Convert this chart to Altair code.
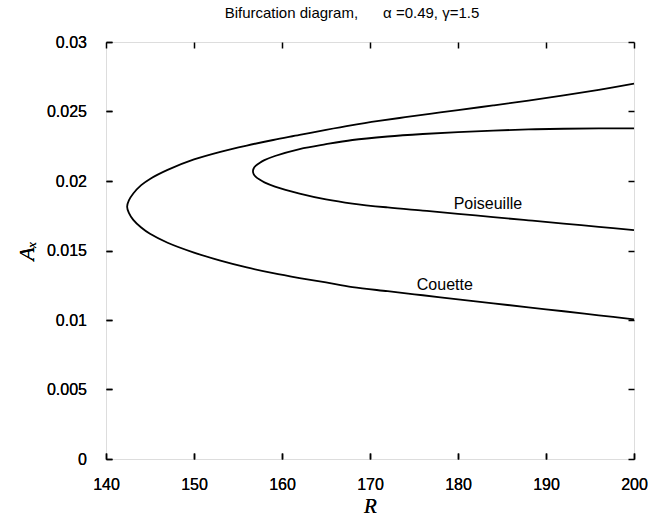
import altair as alt
import pandas as pd

# Couette branch (outer curve), traced from the upper right end through the nose to the lower right end
couette_R = [200, 196, 192, 188, 184, 180, 177, 174, 171, 168, 165, 162, 159, 156, 153, 150, 147, 145, 144, 143.1, 142.6, 142.4,
             142.6, 143.1, 144, 145, 147, 150, 153, 156, 159, 162, 165, 168, 172, 176, 180, 184, 188, 192, 196, 200]
couette_A = [0.02700, 0.02656, 0.02616, 0.02579, 0.02544, 0.0251, 0.02485, 0.02459, 0.02432, 0.02402, 0.02368, 0.02331, 0.02295, 0.02255, 0.0221, 0.02155, 0.0208, 0.02015, 0.0197, 0.0191, 0.0186, 0.01815,
             0.0177, 0.0172, 0.01665, 0.0162, 0.01556, 0.01485, 0.01427, 0.01378, 0.01337, 0.01302, 0.0127, 0.01237, 0.01207, 0.01178, 0.01149, 0.0112, 0.01091, 0.01063, 0.01034, 0.01005]

# Poiseuille branch (inner curve)
poiseuille_R = [200, 196, 192, 188, 184, 180, 176, 172, 168, 165, 162, 159.2, 158.0, 157.45, 157.03, 156.78, 156.7,
                156.78, 157.03, 157.45, 158.0, 159.2, 162, 165, 168, 172, 176, 180, 184, 188, 192, 196, 200]
poiseuille_A = [0.02379, 0.02378, 0.02376, 0.02371, 0.02363, 0.02352, 0.02338, 0.0232, 0.02295, 0.02265, 0.0223, 0.0218, 0.0215, 0.0213, 0.0211, 0.0209, 0.0207,
                0.0205, 0.0203, 0.0201, 0.0199, 0.0196, 0.0191, 0.01868, 0.01838, 0.0181, 0.01787, 0.01764, 0.0174, 0.01717, 0.01694, 0.0167, 0.01647]

label_text = ["Poiseuille", "Couette"]
label_R = [183.4, 178.5]
label_A = [0.01835, 0.01252]

x_ticks = [140, 150, 160, 170, 180, 190, 200]
y_ticks = [0, 0.005, 0.01, 0.015, 0.02, 0.025, 0.03]

title_text = "Bifurcation diagram,\u00a0\u00a0\u00a0\u00a0\u00a0 \u03b1\u00a0=0.49, \u03b3=1.5"

rows = []
for i, (r, a) in enumerate(zip(couette_R, couette_A)):
    rows.append({"curve": "Couette", "order": i, "R": r, "A": a})
for i, (r, a) in enumerate(zip(poiseuille_R, poiseuille_A)):
    rows.append({"curve": "Poiseuille", "order": i, "R": r, "A": a})
df = pd.DataFrame(rows)
lbl = pd.DataFrame({"text": label_text, "R": label_R, "A": label_A})

xs = alt.Scale(domain=[140, 200], nice=False, zero=False)
ys = alt.Scale(domain=[0, 0.03], nice=False, zero=False)

FONT = "Liberation Sans"
SERIF = "Liberation Serif"

tick_common = dict(offset=-6, tickSize=6, tickWidth=1.5, tickColor="black", domain=False, grid=False, labelFlush=False)

x_main = alt.Axis(orient="bottom", values=x_ticks, labelPadding=17, labelFont=FONT, labelFontSize=16,
                  labelFontWeight="normal", labelColor="black", title="R", titleFont=SERIF, titleFontStyle="italic",
                  titleFontWeight="normal", titleFontSize=21, titleColor="black", titlePadding=3, **tick_common)
y_main = alt.Axis(orient="left", values=y_ticks, format="~g", labelPadding=19.5, labelFont=FONT, labelFontSize=16,
                  labelFontWeight="normal", labelColor="black", title="A\u2093", titleFont=SERIF, titleFontStyle="italic",
                  titleFontWeight="normal", titleFontSize=22, titleColor="black", titlePadding=8, **tick_common)
x_top = alt.Axis(orient="top", values=x_ticks, labels=False, title=None, **tick_common)
y_right = alt.Axis(orient="right", values=y_ticks, labels=False, title=None, **tick_common)

lines = alt.Chart(df).mark_line(color="black", strokeWidth=1.8, interpolate="catmull-rom").encode(
    x=alt.X("R:Q", scale=xs, axis=x_main),
    y=alt.Y("A:Q", scale=ys, axis=y_main),
    detail="curve:N",
    order=alt.Order("order:Q"),
)

labels = alt.Chart(lbl).mark_text(font=FONT, fontSize=16, color="black", align="center", baseline="middle").encode(
    x=alt.X("R:Q", scale=xs, axis=x_main),
    y=alt.Y("A:Q", scale=ys, axis=y_main),
    text="text:N",
)

ticks = alt.Chart(lbl).mark_point(opacity=0).encode(
    x=alt.X("R:Q", scale=xs, axis=x_top),
    y=alt.Y("A:Q", scale=ys, axis=y_right),
)

chart = alt.layer(lines, labels, ticks).resolve_axis(x="independent", y="independent").properties(
    width=528,
    height=417,
    autosize=alt.AutoSizeParams(type="none"),
    padding={"left": 106, "top": 42, "right": 17, "bottom": 59},
    title=alt.TitleParams(text=title_text, font=FONT, fontSize=15, fontWeight="normal", color="black",
                          anchor="middle", dx=-18, baseline="alphabetic", offset=1),
).configure_view(stroke="black", strokeWidth=1.5).configure(background="white")

chart.save("out.html", embed_options={"renderer": "svg", "actions": False})
